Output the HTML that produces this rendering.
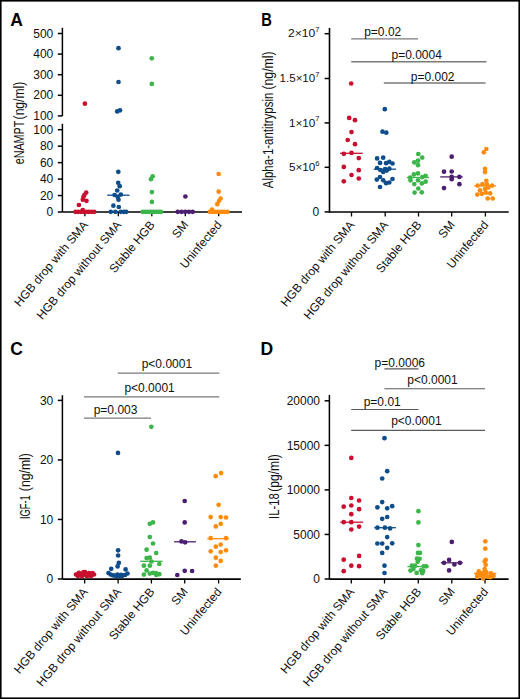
<!DOCTYPE html>
<html><head><meta charset="utf-8"><style>
html,body{margin:0;padding:0;background:#fff;}
svg{display:block;}
text{font-family:"Liberation Sans", sans-serif;}
</style></head><body>
<svg width="520" height="699" viewBox="0 0 520 699">
<rect width="520" height="699" fill="#fff"/>
<text x="10.2" y="26" font-size="17.5" text-anchor="start" font-weight="bold" fill="#000" >A</text>
<line x1="62.4" y1="27.8" x2="62.4" y2="116" stroke="#000" stroke-width="1.5"/>
<line x1="57.8" y1="33.5" x2="62.4" y2="33.5" stroke="#000" stroke-width="1.5"/>
<text x="53.3" y="37.6" font-size="12" text-anchor="end" font-weight="normal" fill="#111" >500</text>
<line x1="57.8" y1="54.1" x2="62.4" y2="54.1" stroke="#000" stroke-width="1.5"/>
<text x="53.3" y="58.2" font-size="12" text-anchor="end" font-weight="normal" fill="#111" >400</text>
<line x1="57.8" y1="74.7" x2="62.4" y2="74.7" stroke="#000" stroke-width="1.5"/>
<text x="53.3" y="78.8" font-size="12" text-anchor="end" font-weight="normal" fill="#111" >300</text>
<line x1="57.8" y1="95.30000000000001" x2="62.4" y2="95.30000000000001" stroke="#000" stroke-width="1.5"/>
<text x="53.3" y="99.4" font-size="12" text-anchor="end" font-weight="normal" fill="#111" >200</text>
<line x1="57.8" y1="115.9" x2="62.4" y2="115.9" stroke="#000" stroke-width="1.5"/>
<text x="53.3" y="120.0" font-size="12" text-anchor="end" font-weight="normal" fill="#111" >100</text>
<line x1="62.4" y1="123.8" x2="62.4" y2="212" stroke="#000" stroke-width="1.5"/>
<line x1="57.8" y1="129.7" x2="62.4" y2="129.7" stroke="#000" stroke-width="1.5"/>
<text x="53.3" y="133.79999999999998" font-size="12" text-anchor="end" font-weight="normal" fill="#111" >100</text>
<line x1="57.8" y1="146.16" x2="62.4" y2="146.16" stroke="#000" stroke-width="1.5"/>
<text x="53.3" y="150.26" font-size="12" text-anchor="end" font-weight="normal" fill="#111" >80</text>
<line x1="57.8" y1="162.62" x2="62.4" y2="162.62" stroke="#000" stroke-width="1.5"/>
<text x="53.3" y="166.72" font-size="12" text-anchor="end" font-weight="normal" fill="#111" >60</text>
<line x1="57.8" y1="179.07999999999998" x2="62.4" y2="179.07999999999998" stroke="#000" stroke-width="1.5"/>
<text x="53.3" y="183.17999999999998" font-size="12" text-anchor="end" font-weight="normal" fill="#111" >40</text>
<line x1="57.8" y1="195.54" x2="62.4" y2="195.54" stroke="#000" stroke-width="1.5"/>
<text x="53.3" y="199.64" font-size="12" text-anchor="end" font-weight="normal" fill="#111" >20</text>
<line x1="57.8" y1="212.0" x2="62.4" y2="212.0" stroke="#000" stroke-width="1.5"/>
<text x="53.3" y="216.1" font-size="12" text-anchor="end" font-weight="normal" fill="#111" >0</text>
<text x="0" y="0" font-size="14.3" fill="#111" transform="translate(24.4 164.3) rotate(-90)" textLength="43.60000000000001" lengthAdjust="spacingAndGlyphs">eNAMPT</text>
<text x="0" y="0" font-size="14.3" fill="#111" transform="translate(24.4 119.4) rotate(-90)" textLength="37.7" lengthAdjust="spacingAndGlyphs">(ng/ml)</text>
<line x1="62.4" y1="212" x2="242" y2="212" stroke="#000" stroke-width="1.5"/>
<line x1="84.9" y1="212" x2="84.9" y2="216.3" stroke="#000" stroke-width="1.3"/>
<line x1="118.3" y1="212" x2="118.3" y2="216.3" stroke="#000" stroke-width="1.3"/>
<line x1="151.8" y1="212" x2="151.8" y2="216.3" stroke="#000" stroke-width="1.3"/>
<line x1="185.3" y1="212" x2="185.3" y2="216.3" stroke="#000" stroke-width="1.3"/>
<line x1="218.7" y1="212" x2="218.7" y2="216.3" stroke="#000" stroke-width="1.3"/>
<circle cx="84.9" cy="103.7" r="2.35" fill="#c8102e"/>
<circle cx="86.2" cy="192.6" r="2.35" fill="#c8102e"/>
<circle cx="84.3" cy="195" r="2.35" fill="#c8102e"/>
<circle cx="83.4" cy="197" r="2.35" fill="#c8102e"/>
<circle cx="82.8" cy="199.7" r="2.35" fill="#c8102e"/>
<circle cx="86.5" cy="200.8" r="2.35" fill="#c8102e"/>
<circle cx="78.9" cy="205" r="2.35" fill="#c8102e"/>
<circle cx="82.8" cy="210" r="2.35" fill="#c8102e"/>
<circle cx="75.5" cy="211.8" r="2.35" fill="#c8102e"/>
<circle cx="78.17142857142858" cy="211.8" r="2.35" fill="#c8102e"/>
<circle cx="80.84285714285714" cy="211.8" r="2.35" fill="#c8102e"/>
<circle cx="83.51428571428572" cy="211.8" r="2.35" fill="#c8102e"/>
<circle cx="86.18571428571428" cy="211.8" r="2.35" fill="#c8102e"/>
<circle cx="88.85714285714286" cy="211.8" r="2.35" fill="#c8102e"/>
<circle cx="91.52857142857144" cy="211.8" r="2.35" fill="#c8102e"/>
<circle cx="94.2" cy="211.8" r="2.35" fill="#c8102e"/>
<circle cx="118.5" cy="48.2" r="2.35" fill="#0d4d8b"/>
<circle cx="118.5" cy="82" r="2.35" fill="#0d4d8b"/>
<circle cx="117.2" cy="111.4" r="2.35" fill="#0d4d8b"/>
<circle cx="120" cy="110.3" r="2.35" fill="#0d4d8b"/>
<circle cx="118.3" cy="171.8" r="2.35" fill="#0d4d8b"/>
<circle cx="118.2" cy="182.8" r="2.35" fill="#0d4d8b"/>
<circle cx="119.7" cy="186.2" r="2.35" fill="#0d4d8b"/>
<circle cx="117.2" cy="190.5" r="2.35" fill="#0d4d8b"/>
<circle cx="114.6" cy="195" r="2.35" fill="#0d4d8b"/>
<circle cx="120.8" cy="194.6" r="2.35" fill="#0d4d8b"/>
<circle cx="117.7" cy="197" r="2.35" fill="#0d4d8b"/>
<circle cx="118.5" cy="199.7" r="2.35" fill="#0d4d8b"/>
<circle cx="113.4" cy="205.7" r="2.35" fill="#0d4d8b"/>
<circle cx="118.8" cy="207" r="2.35" fill="#0d4d8b"/>
<circle cx="110.8" cy="211.8" r="2.35" fill="#0d4d8b"/>
<circle cx="115.4" cy="211.8" r="2.35" fill="#0d4d8b"/>
<circle cx="120.8" cy="211.8" r="2.35" fill="#0d4d8b"/>
<circle cx="123.8" cy="211.8" r="2.35" fill="#0d4d8b"/>
<circle cx="126.2" cy="211.8" r="2.35" fill="#0d4d8b"/>
<circle cx="151.8" cy="58.3" r="2.35" fill="#3cb54a"/>
<circle cx="151.8" cy="83.9" r="2.35" fill="#3cb54a"/>
<circle cx="152.7" cy="176.3" r="2.35" fill="#3cb54a"/>
<circle cx="151" cy="179.2" r="2.35" fill="#3cb54a"/>
<circle cx="151.9" cy="192.1" r="2.35" fill="#3cb54a"/>
<circle cx="151.9" cy="201.9" r="2.35" fill="#3cb54a"/>
<circle cx="142.7" cy="211.8" r="2.35" fill="#3cb54a"/>
<circle cx="144.98749999999998" cy="211.8" r="2.35" fill="#3cb54a"/>
<circle cx="147.27499999999998" cy="211.8" r="2.35" fill="#3cb54a"/>
<circle cx="149.5625" cy="211.8" r="2.35" fill="#3cb54a"/>
<circle cx="151.85" cy="211.8" r="2.35" fill="#3cb54a"/>
<circle cx="154.1375" cy="211.8" r="2.35" fill="#3cb54a"/>
<circle cx="156.425" cy="211.8" r="2.35" fill="#3cb54a"/>
<circle cx="158.7125" cy="211.8" r="2.35" fill="#3cb54a"/>
<circle cx="161.0" cy="211.8" r="2.35" fill="#3cb54a"/>
<circle cx="185.4" cy="196.5" r="2.35" fill="#4b1f6f"/>
<circle cx="177.7" cy="211.8" r="2.35" fill="#4b1f6f"/>
<circle cx="181.45" cy="211.8" r="2.35" fill="#4b1f6f"/>
<circle cx="185.2" cy="211.8" r="2.35" fill="#4b1f6f"/>
<circle cx="188.95" cy="211.8" r="2.35" fill="#4b1f6f"/>
<circle cx="192.7" cy="211.8" r="2.35" fill="#4b1f6f"/>
<circle cx="218.7" cy="174" r="2.35" fill="#ff8c0f"/>
<circle cx="218.7" cy="191.7" r="2.35" fill="#ff8c0f"/>
<circle cx="220.6" cy="198.5" r="2.35" fill="#ff8c0f"/>
<circle cx="219" cy="201" r="2.35" fill="#ff8c0f"/>
<circle cx="217.3" cy="204.2" r="2.35" fill="#ff8c0f"/>
<circle cx="212" cy="209.6" r="2.35" fill="#ff8c0f"/>
<circle cx="210.0" cy="211.8" r="2.35" fill="#ff8c0f"/>
<circle cx="212.47142857142856" cy="211.8" r="2.35" fill="#ff8c0f"/>
<circle cx="214.94285714285715" cy="211.8" r="2.35" fill="#ff8c0f"/>
<circle cx="217.4142857142857" cy="211.8" r="2.35" fill="#ff8c0f"/>
<circle cx="219.8857142857143" cy="211.8" r="2.35" fill="#ff8c0f"/>
<circle cx="222.35714285714286" cy="211.8" r="2.35" fill="#ff8c0f"/>
<circle cx="224.82857142857145" cy="211.8" r="2.35" fill="#ff8c0f"/>
<circle cx="227.3" cy="211.8" r="2.35" fill="#ff8c0f"/>
<line x1="107.2" y1="195.2" x2="129.5" y2="195.2" stroke="#0d4d8b" stroke-width="1.3"/>
<text x="88.60000000000001" y="225.2" font-size="12" text-anchor="end" fill="#111" transform="rotate(-50 88.60000000000001 225.2)" textLength="107.3" lengthAdjust="spacingAndGlyphs">HGB drop with SMA</text>
<text x="122.0" y="225.2" font-size="12" text-anchor="end" fill="#111" transform="rotate(-50 122.0 225.2)" textLength="124.0" lengthAdjust="spacingAndGlyphs">HGB drop without SMA</text>
<text x="155.5" y="225.2" font-size="12" text-anchor="end" fill="#111" transform="rotate(-50 155.5 225.2)" textLength="63.3" lengthAdjust="spacingAndGlyphs">Stable HGB</text>
<text x="189.0" y="225.2" font-size="12" text-anchor="end" fill="#111" transform="rotate(-50 189.0 225.2)" textLength="18" lengthAdjust="spacingAndGlyphs">SM</text>
<text x="222.39999999999998" y="225.2" font-size="12" text-anchor="end" fill="#111" transform="rotate(-50 222.39999999999998 225.2)" textLength="57.4" lengthAdjust="spacingAndGlyphs">Uninfected</text>
<text x="261.3" y="25.6" font-size="17.5" text-anchor="start" font-weight="bold" fill="#000" textLength="10.6" lengthAdjust="spacingAndGlyphs">B</text>
<line x1="329.5" y1="27.9" x2="329.5" y2="212.8" stroke="#000" stroke-width="1.6"/>
<line x1="324.6" y1="33.7" x2="329.5" y2="33.7" stroke="#000" stroke-width="1.5"/>
<text x="315.2" y="37.300000000000004" font-size="11" text-anchor="end" fill="#111" textLength="27.2" lengthAdjust="spacingAndGlyphs">2×10</text>
<text x="315.3" y="32.1" font-size="7.6" fill="#111">7</text>
<line x1="324.6" y1="78.5" x2="329.5" y2="78.5" stroke="#000" stroke-width="1.5"/>
<text x="315.2" y="82.1" font-size="11" text-anchor="end" fill="#111" textLength="35.6" lengthAdjust="spacingAndGlyphs">1.5×10</text>
<text x="315.3" y="76.9" font-size="7.6" fill="#111">7</text>
<line x1="324.6" y1="122.9" x2="329.5" y2="122.9" stroke="#000" stroke-width="1.5"/>
<text x="315.2" y="126.5" font-size="11" text-anchor="end" fill="#111" textLength="26.3" lengthAdjust="spacingAndGlyphs">1×10</text>
<text x="315.3" y="121.30000000000001" font-size="7.6" fill="#111">7</text>
<line x1="324.6" y1="167.3" x2="329.5" y2="167.3" stroke="#000" stroke-width="1.5"/>
<text x="315.2" y="170.9" font-size="11" text-anchor="end" fill="#111" textLength="26.3" lengthAdjust="spacingAndGlyphs">5×10</text>
<text x="315.3" y="165.70000000000002" font-size="7.6" fill="#111">6</text>
<line x1="324.6" y1="211.9" x2="329.5" y2="211.9" stroke="#000" stroke-width="1.5"/>
<text x="319.3" y="215.7" font-size="12" text-anchor="end" font-weight="normal" fill="#111" >0</text>
<text x="0" y="0" font-size="14.3" fill="#111" transform="translate(272.6 188.2) rotate(-90)" textLength="95.49999999999999" lengthAdjust="spacingAndGlyphs">Alpha-1-antitrypsin</text>
<text x="0" y="0" font-size="14.3" fill="#111" transform="translate(272.6 89.6) rotate(-90)" textLength="38.199999999999996" lengthAdjust="spacingAndGlyphs">(ng/ml)</text>
<line x1="329.5" y1="212.0" x2="508.7" y2="212.0" stroke="#000" stroke-width="1.7"/>
<line x1="351.5" y1="212" x2="351.5" y2="216.5" stroke="#000" stroke-width="1.3"/>
<line x1="385.2" y1="212" x2="385.2" y2="216.5" stroke="#000" stroke-width="1.3"/>
<line x1="418.5" y1="212" x2="418.5" y2="216.5" stroke="#000" stroke-width="1.3"/>
<line x1="451.7" y1="212" x2="451.7" y2="216.5" stroke="#000" stroke-width="1.3"/>
<line x1="485.4" y1="212" x2="485.4" y2="216.5" stroke="#000" stroke-width="1.3"/>
<circle cx="351.2" cy="83.5" r="2.35" fill="#c8102e"/>
<circle cx="349.2" cy="117.9" r="2.35" fill="#c8102e"/>
<circle cx="355" cy="120.2" r="2.35" fill="#c8102e"/>
<circle cx="351.5" cy="132.1" r="2.35" fill="#c8102e"/>
<circle cx="347.7" cy="140" r="2.35" fill="#c8102e"/>
<circle cx="355" cy="144.2" r="2.35" fill="#c8102e"/>
<circle cx="343.8" cy="153.8" r="2.35" fill="#c8102e"/>
<circle cx="351.5" cy="152.9" r="2.35" fill="#c8102e"/>
<circle cx="358.8" cy="158.1" r="2.35" fill="#c8102e"/>
<circle cx="343.8" cy="166.9" r="2.35" fill="#c8102e"/>
<circle cx="358.8" cy="170.2" r="2.35" fill="#c8102e"/>
<circle cx="351.5" cy="175" r="2.35" fill="#c8102e"/>
<circle cx="358.8" cy="178.5" r="2.35" fill="#c8102e"/>
<circle cx="343.8" cy="181.3" r="2.35" fill="#c8102e"/>
<circle cx="384.8" cy="109.2" r="2.35" fill="#0d4d8b"/>
<circle cx="382.5" cy="131.7" r="2.35" fill="#0d4d8b"/>
<circle cx="386.3" cy="132.7" r="2.35" fill="#0d4d8b"/>
<circle cx="377.1" cy="158.4" r="2.35" fill="#0d4d8b"/>
<circle cx="383.2" cy="157.7" r="2.35" fill="#0d4d8b"/>
<circle cx="380" cy="162.9" r="2.35" fill="#0d4d8b"/>
<circle cx="386.1" cy="163.2" r="2.35" fill="#0d4d8b"/>
<circle cx="389.3" cy="161.9" r="2.35" fill="#0d4d8b"/>
<circle cx="392.5" cy="163.5" r="2.35" fill="#0d4d8b"/>
<circle cx="377.1" cy="168" r="2.35" fill="#0d4d8b"/>
<circle cx="380.3" cy="170" r="2.35" fill="#0d4d8b"/>
<circle cx="383.2" cy="171.9" r="2.35" fill="#0d4d8b"/>
<circle cx="385.1" cy="169" r="2.35" fill="#0d4d8b"/>
<circle cx="389.3" cy="168.7" r="2.35" fill="#0d4d8b"/>
<circle cx="386.7" cy="170.6" r="2.35" fill="#0d4d8b"/>
<circle cx="376.8" cy="179.6" r="2.35" fill="#0d4d8b"/>
<circle cx="380" cy="177" r="2.35" fill="#0d4d8b"/>
<circle cx="383.2" cy="180.3" r="2.35" fill="#0d4d8b"/>
<circle cx="386.1" cy="183.2" r="2.35" fill="#0d4d8b"/>
<circle cx="389.3" cy="182.5" r="2.35" fill="#0d4d8b"/>
<circle cx="392.5" cy="179" r="2.35" fill="#0d4d8b"/>
<circle cx="380" cy="187" r="2.35" fill="#0d4d8b"/>
<circle cx="418.3" cy="154" r="2.35" fill="#3cb54a"/>
<circle cx="422.2" cy="157.6" r="2.35" fill="#3cb54a"/>
<circle cx="414.3" cy="162.4" r="2.35" fill="#3cb54a"/>
<circle cx="418" cy="160.7" r="2.35" fill="#3cb54a"/>
<circle cx="418" cy="165.2" r="2.35" fill="#3cb54a"/>
<circle cx="413.9" cy="174.4" r="2.35" fill="#3cb54a"/>
<circle cx="418" cy="173.4" r="2.35" fill="#3cb54a"/>
<circle cx="410.2" cy="177.5" r="2.35" fill="#3cb54a"/>
<circle cx="425.6" cy="175.8" r="2.35" fill="#3cb54a"/>
<circle cx="422.2" cy="177.2" r="2.35" fill="#3cb54a"/>
<circle cx="410.5" cy="180.3" r="2.35" fill="#3cb54a"/>
<circle cx="418" cy="180.3" r="2.35" fill="#3cb54a"/>
<circle cx="425.6" cy="181.7" r="2.35" fill="#3cb54a"/>
<circle cx="421.8" cy="183.4" r="2.35" fill="#3cb54a"/>
<circle cx="414.3" cy="184.1" r="2.35" fill="#3cb54a"/>
<circle cx="418.3" cy="188.5" r="2.35" fill="#3cb54a"/>
<circle cx="414.6" cy="192.6" r="2.35" fill="#3cb54a"/>
<circle cx="421.8" cy="192.3" r="2.35" fill="#3cb54a"/>
<circle cx="451.7" cy="156.7" r="2.35" fill="#4b1f6f"/>
<circle cx="444" cy="171.7" r="2.35" fill="#4b1f6f"/>
<circle cx="451.7" cy="171.5" r="2.35" fill="#4b1f6f"/>
<circle cx="451.7" cy="176.9" r="2.35" fill="#4b1f6f"/>
<circle cx="459.4" cy="176.9" r="2.35" fill="#4b1f6f"/>
<circle cx="451.7" cy="179.2" r="2.35" fill="#4b1f6f"/>
<circle cx="459.4" cy="184.2" r="2.35" fill="#4b1f6f"/>
<circle cx="444" cy="188.1" r="2.35" fill="#4b1f6f"/>
<circle cx="486.3" cy="149" r="2.35" fill="#ff8c0f"/>
<circle cx="483.8" cy="152.3" r="2.35" fill="#ff8c0f"/>
<circle cx="485" cy="168.8" r="2.35" fill="#ff8c0f"/>
<circle cx="485" cy="172.1" r="2.35" fill="#ff8c0f"/>
<circle cx="486.3" cy="180.8" r="2.35" fill="#ff8c0f"/>
<circle cx="477.7" cy="185.6" r="2.35" fill="#ff8c0f"/>
<circle cx="482.5" cy="184.2" r="2.35" fill="#ff8c0f"/>
<circle cx="487" cy="184.5" r="2.35" fill="#ff8c0f"/>
<circle cx="492.1" cy="185.6" r="2.35" fill="#ff8c0f"/>
<circle cx="480" cy="190.4" r="2.35" fill="#ff8c0f"/>
<circle cx="485" cy="189" r="2.35" fill="#ff8c0f"/>
<circle cx="488.3" cy="187.5" r="2.35" fill="#ff8c0f"/>
<circle cx="477.3" cy="194.6" r="2.35" fill="#ff8c0f"/>
<circle cx="481.9" cy="193.8" r="2.35" fill="#ff8c0f"/>
<circle cx="485.8" cy="192.7" r="2.35" fill="#ff8c0f"/>
<circle cx="490.2" cy="193.3" r="2.35" fill="#ff8c0f"/>
<circle cx="487.7" cy="198.5" r="2.35" fill="#ff8c0f"/>
<circle cx="492.7" cy="198.5" r="2.35" fill="#ff8c0f"/>
<line x1="340" y1="153.3" x2="362.7" y2="153.3" stroke="#c8102e" stroke-width="1.3"/>
<line x1="373.8" y1="169.2" x2="396" y2="169.2" stroke="#0d4d8b" stroke-width="1.3"/>
<line x1="406.9" y1="177.5" x2="429" y2="177.5" stroke="#3cb54a" stroke-width="1.3"/>
<line x1="440.2" y1="176.9" x2="462.7" y2="176.9" stroke="#4b1f6f" stroke-width="1.3"/>
<line x1="474.2" y1="186" x2="496" y2="186" stroke="#ff8c0f" stroke-width="1.3"/>
<line x1="351.2" y1="38.8" x2="418.1" y2="38.8" stroke="#7a7a7a" stroke-width="1.35"/>
<text x="364.2" y="35.8" font-size="12" text-anchor="start" font-weight="normal" fill="#111" >p=0.02</text>
<line x1="351.2" y1="61.7" x2="486.5" y2="61.7" stroke="#7a7a7a" stroke-width="1.35"/>
<text x="391.5" y="58.5" font-size="12" text-anchor="start" font-weight="normal" fill="#111" >p=0.0004</text>
<line x1="383.8" y1="83.0" x2="485.6" y2="83.0" stroke="#7a7a7a" stroke-width="1.35"/>
<text x="410.8" y="80.6" font-size="12" text-anchor="start" font-weight="normal" fill="#111" >p=0.002</text>
<text x="355.2" y="225.2" font-size="12" text-anchor="end" fill="#111" transform="rotate(-50 355.2 225.2)" textLength="107.3" lengthAdjust="spacingAndGlyphs">HGB drop with SMA</text>
<text x="388.9" y="225.2" font-size="12" text-anchor="end" fill="#111" transform="rotate(-50 388.9 225.2)" textLength="124.0" lengthAdjust="spacingAndGlyphs">HGB drop without SMA</text>
<text x="422.2" y="225.2" font-size="12" text-anchor="end" fill="#111" transform="rotate(-50 422.2 225.2)" textLength="63.3" lengthAdjust="spacingAndGlyphs">Stable HGB</text>
<text x="455.4" y="225.2" font-size="12" text-anchor="end" fill="#111" transform="rotate(-50 455.4 225.2)" textLength="18" lengthAdjust="spacingAndGlyphs">SM</text>
<text x="489.09999999999997" y="225.2" font-size="12" text-anchor="end" fill="#111" transform="rotate(-50 489.09999999999997 225.2)" textLength="57.4" lengthAdjust="spacingAndGlyphs">Uninfected</text>
<text x="10.2" y="355" font-size="17.5" text-anchor="start" font-weight="bold" fill="#000" >C</text>
<line x1="62.4" y1="395.2" x2="62.4" y2="579" stroke="#000" stroke-width="1.5"/>
<line x1="57.8" y1="400.4" x2="62.4" y2="400.4" stroke="#000" stroke-width="1.5"/>
<text x="53.3" y="404.5" font-size="12" text-anchor="end" font-weight="normal" fill="#111" >30</text>
<line x1="57.8" y1="459.92999999999995" x2="62.4" y2="459.92999999999995" stroke="#000" stroke-width="1.5"/>
<text x="53.3" y="464.03" font-size="12" text-anchor="end" font-weight="normal" fill="#111" >20</text>
<line x1="57.8" y1="519.46" x2="62.4" y2="519.46" stroke="#000" stroke-width="1.5"/>
<text x="53.3" y="523.5600000000001" font-size="12" text-anchor="end" font-weight="normal" fill="#111" >10</text>
<line x1="57.8" y1="578.99" x2="62.4" y2="578.99" stroke="#000" stroke-width="1.5"/>
<text x="53.3" y="583.09" font-size="12" text-anchor="end" font-weight="normal" fill="#111" >0</text>
<text x="0" y="0" font-size="14.3" fill="#111" transform="translate(30 519.0) rotate(-90)" textLength="23.69999999999999" lengthAdjust="spacingAndGlyphs">IGF-1</text>
<text x="0" y="0" font-size="14.3" fill="#111" transform="translate(30 491.2) rotate(-90)" textLength="38.099999999999966" lengthAdjust="spacingAndGlyphs">(ng/ml)</text>
<line x1="62.4" y1="579.1" x2="240.8" y2="579.1" stroke="#000" stroke-width="1.7"/>
<line x1="84.7" y1="579" x2="84.7" y2="583.5" stroke="#000" stroke-width="1.3"/>
<line x1="118.1" y1="579" x2="118.1" y2="583.5" stroke="#000" stroke-width="1.3"/>
<line x1="151.4" y1="579" x2="151.4" y2="583.5" stroke="#000" stroke-width="1.3"/>
<line x1="184.7" y1="579" x2="184.7" y2="583.5" stroke="#000" stroke-width="1.3"/>
<line x1="218.6" y1="579" x2="218.6" y2="583.5" stroke="#000" stroke-width="1.3"/>
<circle cx="76" cy="574.5" r="2.35" fill="#c8102e"/>
<circle cx="78" cy="574" r="2.35" fill="#c8102e"/>
<circle cx="80" cy="574.5" r="2.35" fill="#c8102e"/>
<circle cx="82" cy="574.2" r="2.35" fill="#c8102e"/>
<circle cx="84" cy="574.5" r="2.35" fill="#c8102e"/>
<circle cx="86" cy="574" r="2.35" fill="#c8102e"/>
<circle cx="88" cy="574.5" r="2.35" fill="#c8102e"/>
<circle cx="90" cy="574.2" r="2.35" fill="#c8102e"/>
<circle cx="92" cy="574.5" r="2.35" fill="#c8102e"/>
<circle cx="94" cy="574.5" r="2.35" fill="#c8102e"/>
<circle cx="79" cy="572.8" r="2.35" fill="#c8102e"/>
<circle cx="83.5" cy="572.2" r="2.35" fill="#c8102e"/>
<circle cx="85" cy="572" r="2.35" fill="#c8102e"/>
<circle cx="89" cy="573" r="2.35" fill="#c8102e"/>
<circle cx="92.5" cy="573.2" r="2.35" fill="#c8102e"/>
<circle cx="78" cy="576" r="2.35" fill="#c8102e"/>
<circle cx="82" cy="576.3" r="2.35" fill="#c8102e"/>
<circle cx="87" cy="576.2" r="2.35" fill="#c8102e"/>
<circle cx="91" cy="576" r="2.35" fill="#c8102e"/>
<circle cx="118" cy="452.9" r="2.35" fill="#0d4d8b"/>
<circle cx="118.1" cy="550.3" r="2.35" fill="#0d4d8b"/>
<circle cx="118.1" cy="555.5" r="2.35" fill="#0d4d8b"/>
<circle cx="118.8" cy="562.9" r="2.35" fill="#0d4d8b"/>
<circle cx="117.6" cy="566.4" r="2.35" fill="#0d4d8b"/>
<circle cx="111.2" cy="568.8" r="2.35" fill="#0d4d8b"/>
<circle cx="125.6" cy="569.4" r="2.35" fill="#0d4d8b"/>
<circle cx="108.5" cy="573" r="2.35" fill="#0d4d8b"/>
<circle cx="110.5" cy="574.5" r="2.35" fill="#0d4d8b"/>
<circle cx="113" cy="575.5" r="2.35" fill="#0d4d8b"/>
<circle cx="116" cy="576" r="2.35" fill="#0d4d8b"/>
<circle cx="119" cy="576.2" r="2.35" fill="#0d4d8b"/>
<circle cx="122" cy="576" r="2.35" fill="#0d4d8b"/>
<circle cx="125" cy="575" r="2.35" fill="#0d4d8b"/>
<circle cx="127.5" cy="573.5" r="2.35" fill="#0d4d8b"/>
<circle cx="117.5" cy="574.5" r="2.35" fill="#0d4d8b"/>
<circle cx="121" cy="574.8" r="2.35" fill="#0d4d8b"/>
<circle cx="151.3" cy="426.8" r="2.35" fill="#3cb54a"/>
<circle cx="149.8" cy="523.8" r="2.35" fill="#3cb54a"/>
<circle cx="153" cy="522.4" r="2.35" fill="#3cb54a"/>
<circle cx="149.8" cy="537" r="2.35" fill="#3cb54a"/>
<circle cx="153" cy="543.5" r="2.35" fill="#3cb54a"/>
<circle cx="146.6" cy="549.7" r="2.35" fill="#3cb54a"/>
<circle cx="156.2" cy="553" r="2.35" fill="#3cb54a"/>
<circle cx="146.6" cy="558.1" r="2.35" fill="#3cb54a"/>
<circle cx="149.8" cy="557.7" r="2.35" fill="#3cb54a"/>
<circle cx="151.5" cy="561.5" r="2.35" fill="#3cb54a"/>
<circle cx="159.3" cy="564" r="2.35" fill="#3cb54a"/>
<circle cx="143.9" cy="565.7" r="2.35" fill="#3cb54a"/>
<circle cx="149.8" cy="565.7" r="2.35" fill="#3cb54a"/>
<circle cx="146.6" cy="570.4" r="2.35" fill="#3cb54a"/>
<circle cx="153" cy="572.9" r="2.35" fill="#3cb54a"/>
<circle cx="156" cy="573" r="2.35" fill="#3cb54a"/>
<circle cx="143.9" cy="574.6" r="2.35" fill="#3cb54a"/>
<circle cx="149.8" cy="573.6" r="2.35" fill="#3cb54a"/>
<circle cx="156.2" cy="575" r="2.35" fill="#3cb54a"/>
<circle cx="159.3" cy="574.2" r="2.35" fill="#3cb54a"/>
<circle cx="184.7" cy="501" r="2.35" fill="#4b1f6f"/>
<circle cx="184.7" cy="522.4" r="2.35" fill="#4b1f6f"/>
<circle cx="181.5" cy="541.4" r="2.35" fill="#4b1f6f"/>
<circle cx="185.1" cy="542.3" r="2.35" fill="#4b1f6f"/>
<circle cx="184.7" cy="570.8" r="2.35" fill="#4b1f6f"/>
<circle cx="192.1" cy="571" r="2.35" fill="#4b1f6f"/>
<circle cx="177.3" cy="575" r="2.35" fill="#4b1f6f"/>
<circle cx="221.1" cy="473.1" r="2.35" fill="#ff8c0f"/>
<circle cx="215.7" cy="476.2" r="2.35" fill="#ff8c0f"/>
<circle cx="218.6" cy="504.8" r="2.35" fill="#ff8c0f"/>
<circle cx="210.7" cy="517.1" r="2.35" fill="#ff8c0f"/>
<circle cx="220.7" cy="517.1" r="2.35" fill="#ff8c0f"/>
<circle cx="226" cy="517.5" r="2.35" fill="#ff8c0f"/>
<circle cx="220.7" cy="523.8" r="2.35" fill="#ff8c0f"/>
<circle cx="215.8" cy="526.4" r="2.35" fill="#ff8c0f"/>
<circle cx="210.7" cy="538.2" r="2.35" fill="#ff8c0f"/>
<circle cx="226" cy="538.2" r="2.35" fill="#ff8c0f"/>
<circle cx="215.8" cy="546.7" r="2.35" fill="#ff8c0f"/>
<circle cx="220.7" cy="544.6" r="2.35" fill="#ff8c0f"/>
<circle cx="210.7" cy="551.3" r="2.35" fill="#ff8c0f"/>
<circle cx="220.7" cy="552" r="2.35" fill="#ff8c0f"/>
<circle cx="226" cy="550.3" r="2.35" fill="#ff8c0f"/>
<circle cx="215.8" cy="557.7" r="2.35" fill="#ff8c0f"/>
<circle cx="220.7" cy="560.9" r="2.35" fill="#ff8c0f"/>
<circle cx="215.8" cy="565.7" r="2.35" fill="#ff8c0f"/>
<line x1="107.2" y1="574" x2="128.8" y2="574" stroke="#0d4d8b" stroke-width="1.3"/>
<line x1="140.3" y1="561.3" x2="162.5" y2="561.3" stroke="#3cb54a" stroke-width="1.3"/>
<line x1="174.1" y1="541.8" x2="195.9" y2="541.8" stroke="#4b1f6f" stroke-width="1.3"/>
<line x1="207.3" y1="538.7" x2="229.1" y2="538.7" stroke="#ff8c0f" stroke-width="1.3"/>
<line x1="117.7" y1="373.1" x2="219.3" y2="373.1" stroke="#7a7a7a" stroke-width="1.35"/>
<text x="141.7" y="368.1" font-size="12" text-anchor="start" font-weight="normal" fill="#111" >p&lt;0.0001</text>
<line x1="84" y1="396.8" x2="219.3" y2="396.8" stroke="#7a7a7a" stroke-width="1.35"/>
<text x="124.4" y="391.5" font-size="12" text-anchor="start" font-weight="normal" fill="#111" >p&lt;0.0001</text>
<line x1="84" y1="418.1" x2="151" y2="418.1" stroke="#7a7a7a" stroke-width="1.35"/>
<text x="93.7" y="413.8" font-size="12" text-anchor="start" font-weight="normal" fill="#111" >p=0.003</text>
<text x="88.4" y="592.2" font-size="12" text-anchor="end" fill="#111" transform="rotate(-50 88.4 592.2)" textLength="107.3" lengthAdjust="spacingAndGlyphs">HGB drop with SMA</text>
<text x="121.8" y="592.2" font-size="12" text-anchor="end" fill="#111" transform="rotate(-50 121.8 592.2)" textLength="124.0" lengthAdjust="spacingAndGlyphs">HGB drop without SMA</text>
<text x="155.1" y="592.2" font-size="12" text-anchor="end" fill="#111" transform="rotate(-50 155.1 592.2)" textLength="63.3" lengthAdjust="spacingAndGlyphs">Stable HGB</text>
<text x="188.39999999999998" y="592.2" font-size="12" text-anchor="end" fill="#111" transform="rotate(-50 188.39999999999998 592.2)" textLength="18" lengthAdjust="spacingAndGlyphs">SM</text>
<text x="222.29999999999998" y="592.2" font-size="12" text-anchor="end" fill="#111" transform="rotate(-50 222.29999999999998 592.2)" textLength="57.4" lengthAdjust="spacingAndGlyphs">Uninfected</text>
<text x="260.6" y="354.6" font-size="17.5" text-anchor="start" font-weight="bold" fill="#000" >D</text>
<line x1="329.4" y1="395" x2="329.4" y2="579" stroke="#000" stroke-width="1.5"/>
<line x1="324.6" y1="400.8" x2="329.4" y2="400.8" stroke="#000" stroke-width="1.5"/>
<text x="320" y="405.0" font-size="12" text-anchor="end" font-weight="normal" fill="#111" >20000</text>
<line x1="324.6" y1="445.35" x2="329.4" y2="445.35" stroke="#000" stroke-width="1.5"/>
<text x="320" y="449.55" font-size="12" text-anchor="end" font-weight="normal" fill="#111" >15000</text>
<line x1="324.6" y1="489.9" x2="329.4" y2="489.9" stroke="#000" stroke-width="1.5"/>
<text x="320" y="494.09999999999997" font-size="12" text-anchor="end" font-weight="normal" fill="#111" >10000</text>
<line x1="324.6" y1="534.45" x2="329.4" y2="534.45" stroke="#000" stroke-width="1.5"/>
<text x="320" y="538.6500000000001" font-size="12" text-anchor="end" font-weight="normal" fill="#111" >5000</text>
<line x1="324.6" y1="579.0" x2="329.4" y2="579.0" stroke="#000" stroke-width="1.5"/>
<text x="320" y="583.2" font-size="12" text-anchor="end" font-weight="normal" fill="#111" >0</text>
<text x="0" y="0" font-size="14.3" fill="#111" transform="translate(279.4 519.0) rotate(-90)" textLength="25.69999999999999" lengthAdjust="spacingAndGlyphs">IL-18</text>
<text x="0" y="0" font-size="14.3" fill="#111" transform="translate(279.4 491.7) rotate(-90)" textLength="37.599999999999966" lengthAdjust="spacingAndGlyphs">(pg/ml)</text>
<line x1="329.4" y1="579.1" x2="508.6" y2="579.1" stroke="#000" stroke-width="1.7"/>
<line x1="351.3" y1="579" x2="351.3" y2="583.5" stroke="#000" stroke-width="1.3"/>
<line x1="384.5" y1="579" x2="384.5" y2="583.5" stroke="#000" stroke-width="1.3"/>
<line x1="418.3" y1="579" x2="418.3" y2="583.5" stroke="#000" stroke-width="1.3"/>
<line x1="451.8" y1="579" x2="451.8" y2="583.5" stroke="#000" stroke-width="1.3"/>
<line x1="485.0" y1="579" x2="485.0" y2="583.5" stroke="#000" stroke-width="1.3"/>
<circle cx="351.3" cy="457.9" r="2.35" fill="#c8102e"/>
<circle cx="351.3" cy="498" r="2.35" fill="#c8102e"/>
<circle cx="359.1" cy="500.5" r="2.35" fill="#c8102e"/>
<circle cx="343.7" cy="506.7" r="2.35" fill="#c8102e"/>
<circle cx="351.3" cy="505.5" r="2.35" fill="#c8102e"/>
<circle cx="359.1" cy="509.2" r="2.35" fill="#c8102e"/>
<circle cx="351.3" cy="514.2" r="2.35" fill="#c8102e"/>
<circle cx="343.7" cy="522.2" r="2.35" fill="#c8102e"/>
<circle cx="351.3" cy="522.2" r="2.35" fill="#c8102e"/>
<circle cx="351.3" cy="529.5" r="2.35" fill="#c8102e"/>
<circle cx="359.1" cy="526.6" r="2.35" fill="#c8102e"/>
<circle cx="359.1" cy="555.9" r="2.35" fill="#c8102e"/>
<circle cx="343.7" cy="559.7" r="2.35" fill="#c8102e"/>
<circle cx="351.3" cy="565.7" r="2.35" fill="#c8102e"/>
<circle cx="359.1" cy="566.2" r="2.35" fill="#c8102e"/>
<circle cx="343.7" cy="571.2" r="2.35" fill="#c8102e"/>
<circle cx="384.5" cy="438.2" r="2.35" fill="#0d4d8b"/>
<circle cx="387.2" cy="471.2" r="2.35" fill="#0d4d8b"/>
<circle cx="382.2" cy="478.5" r="2.35" fill="#0d4d8b"/>
<circle cx="382.2" cy="502.1" r="2.35" fill="#0d4d8b"/>
<circle cx="377.4" cy="507.3" r="2.35" fill="#0d4d8b"/>
<circle cx="387.2" cy="508.3" r="2.35" fill="#0d4d8b"/>
<circle cx="392.2" cy="506.2" r="2.35" fill="#0d4d8b"/>
<circle cx="382.2" cy="518.8" r="2.35" fill="#0d4d8b"/>
<circle cx="387.2" cy="517" r="2.35" fill="#0d4d8b"/>
<circle cx="377.4" cy="527.7" r="2.35" fill="#0d4d8b"/>
<circle cx="384.9" cy="527.7" r="2.35" fill="#0d4d8b"/>
<circle cx="390" cy="528.4" r="2.35" fill="#0d4d8b"/>
<circle cx="387.2" cy="537.1" r="2.35" fill="#0d4d8b"/>
<circle cx="377.4" cy="543.5" r="2.35" fill="#0d4d8b"/>
<circle cx="382.2" cy="543.5" r="2.35" fill="#0d4d8b"/>
<circle cx="392.2" cy="543.3" r="2.35" fill="#0d4d8b"/>
<circle cx="387.2" cy="547.8" r="2.35" fill="#0d4d8b"/>
<circle cx="382.2" cy="552.9" r="2.35" fill="#0d4d8b"/>
<circle cx="384.5" cy="565.7" r="2.35" fill="#0d4d8b"/>
<circle cx="384.5" cy="573" r="2.35" fill="#0d4d8b"/>
<circle cx="418.4" cy="511.2" r="2.35" fill="#3cb54a"/>
<circle cx="418.4" cy="522.4" r="2.35" fill="#3cb54a"/>
<circle cx="418.4" cy="545.1" r="2.35" fill="#3cb54a"/>
<circle cx="418" cy="552.9" r="2.35" fill="#3cb54a"/>
<circle cx="420" cy="552.9" r="2.35" fill="#3cb54a"/>
<circle cx="417" cy="558.5" r="2.35" fill="#3cb54a"/>
<circle cx="419.6" cy="558.8" r="2.35" fill="#3cb54a"/>
<circle cx="417.7" cy="561.8" r="2.35" fill="#3cb54a"/>
<circle cx="411.8" cy="565.7" r="2.35" fill="#3cb54a"/>
<circle cx="415.1" cy="565.7" r="2.35" fill="#3cb54a"/>
<circle cx="423.6" cy="566.3" r="2.35" fill="#3cb54a"/>
<circle cx="426.2" cy="566.3" r="2.35" fill="#3cb54a"/>
<circle cx="410.5" cy="570.6" r="2.35" fill="#3cb54a"/>
<circle cx="413.4" cy="569" r="2.35" fill="#3cb54a"/>
<circle cx="416.7" cy="572.9" r="2.35" fill="#3cb54a"/>
<circle cx="422.3" cy="573.2" r="2.35" fill="#3cb54a"/>
<circle cx="421" cy="570.3" r="2.35" fill="#3cb54a"/>
<circle cx="423.2" cy="570.9" r="2.35" fill="#3cb54a"/>
<circle cx="451.8" cy="541.9" r="2.35" fill="#4b1f6f"/>
<circle cx="449.1" cy="559.9" r="2.35" fill="#4b1f6f"/>
<circle cx="444" cy="562.8" r="2.35" fill="#4b1f6f"/>
<circle cx="454.4" cy="564.5" r="2.35" fill="#4b1f6f"/>
<circle cx="459.9" cy="562.8" r="2.35" fill="#4b1f6f"/>
<circle cx="449.1" cy="570.4" r="2.35" fill="#4b1f6f"/>
<circle cx="485.3" cy="541.3" r="2.35" fill="#ff8c0f"/>
<circle cx="485.3" cy="548.7" r="2.35" fill="#ff8c0f"/>
<circle cx="485.7" cy="559.9" r="2.35" fill="#ff8c0f"/>
<circle cx="484.7" cy="561.5" r="2.35" fill="#ff8c0f"/>
<circle cx="485.7" cy="564.8" r="2.35" fill="#ff8c0f"/>
<circle cx="484.7" cy="569.1" r="2.35" fill="#ff8c0f"/>
<circle cx="478.8" cy="571.3" r="2.35" fill="#ff8c0f"/>
<circle cx="477.5" cy="574.6" r="2.35" fill="#ff8c0f"/>
<circle cx="480.5" cy="573.3" r="2.35" fill="#ff8c0f"/>
<circle cx="483.7" cy="572.6" r="2.35" fill="#ff8c0f"/>
<circle cx="486.3" cy="572" r="2.35" fill="#ff8c0f"/>
<circle cx="490.9" cy="573.3" r="2.35" fill="#ff8c0f"/>
<circle cx="493.5" cy="575.9" r="2.35" fill="#ff8c0f"/>
<circle cx="483.1" cy="578.5" r="2.35" fill="#ff8c0f"/>
<circle cx="487.6" cy="576.6" r="2.35" fill="#ff8c0f"/>
<circle cx="490.3" cy="577.2" r="2.35" fill="#ff8c0f"/>
<circle cx="477.2" cy="576.9" r="2.35" fill="#ff8c0f"/>
<circle cx="481" cy="575.5" r="2.35" fill="#ff8c0f"/>
<circle cx="485" cy="575" r="2.35" fill="#ff8c0f"/>
<line x1="340.3" y1="522.2" x2="363.2" y2="522.2" stroke="#c8102e" stroke-width="1.3"/>
<line x1="374.2" y1="527.7" x2="395.9" y2="527.7" stroke="#0d4d8b" stroke-width="1.3"/>
<line x1="407.4" y1="566.6" x2="429.2" y2="566.6" stroke="#3cb54a" stroke-width="1.3"/>
<line x1="440.8" y1="562.8" x2="462.8" y2="562.8" stroke="#4b1f6f" stroke-width="1.3"/>
<line x1="474" y1="573.4" x2="496.3" y2="573.4" stroke="#ff8c0f" stroke-width="1.3"/>
<line x1="384.4" y1="368.9" x2="418.5" y2="368.9" stroke="#5a5a5a" stroke-width="1.15"/>
<text x="374.6" y="366.9" font-size="12" text-anchor="start" font-weight="normal" fill="#111" >p=0.0006</text>
<line x1="384.4" y1="388.7" x2="485" y2="388.7" stroke="#5a5a5a" stroke-width="1.15"/>
<text x="407.3" y="383.7" font-size="12" text-anchor="start" font-weight="normal" fill="#111" >p&lt;0.0001</text>
<line x1="351.2" y1="409.5" x2="418.5" y2="409.5" stroke="#5a5a5a" stroke-width="1.15"/>
<text x="363.7" y="405.8" font-size="12" text-anchor="start" font-weight="normal" fill="#111" >p=0.01</text>
<line x1="351.2" y1="430.3" x2="485" y2="430.3" stroke="#5a5a5a" stroke-width="1.15"/>
<text x="391.2" y="425.0" font-size="12" text-anchor="start" font-weight="normal" fill="#111" >p&lt;0.0001</text>
<text x="355.0" y="592.2" font-size="12" text-anchor="end" fill="#111" transform="rotate(-50 355.0 592.2)" textLength="107.3" lengthAdjust="spacingAndGlyphs">HGB drop with SMA</text>
<text x="388.2" y="592.2" font-size="12" text-anchor="end" fill="#111" transform="rotate(-50 388.2 592.2)" textLength="124.0" lengthAdjust="spacingAndGlyphs">HGB drop without SMA</text>
<text x="422.0" y="592.2" font-size="12" text-anchor="end" fill="#111" transform="rotate(-50 422.0 592.2)" textLength="63.3" lengthAdjust="spacingAndGlyphs">Stable HGB</text>
<text x="455.5" y="592.2" font-size="12" text-anchor="end" fill="#111" transform="rotate(-50 455.5 592.2)" textLength="18" lengthAdjust="spacingAndGlyphs">SM</text>
<text x="488.7" y="592.2" font-size="12" text-anchor="end" fill="#111" transform="rotate(-50 488.7 592.2)" textLength="57.4" lengthAdjust="spacingAndGlyphs">Uninfected</text>
<rect x="0.8" y="0.8" width="518.4" height="697.4" fill="none" stroke="#000" stroke-width="1.6"/>
</svg></body></html>
